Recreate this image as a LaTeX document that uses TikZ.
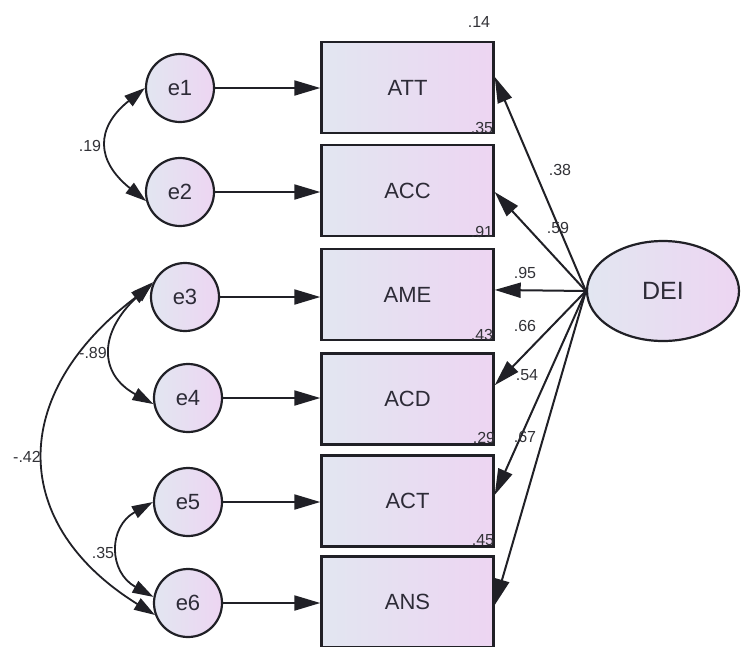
\documentclass[tikz,border=0pt]{standalone}
\usepackage{fontspec}
\setmainfont{Liberation Sans}
\usetikzlibrary{arrows.meta,shapes.geometric,calc}
\definecolor{edgegray}{RGB}{32,32,38}
\definecolor{fillL}{RGB}{226,230,241}
\definecolor{fillR}{RGB}{237,213,242}
\definecolor{numtxt}{RGB}{50,50,55}
\definecolor{labtxt}{RGB}{45,43,55}
\begin{document}
\begin{tikzpicture}[x=1pt,y=-1pt,
  obs/.style={draw=edgegray, line width=2.4pt, left color=fillL, right color=fillR,
    minimum width=172pt, minimum height=91pt, inner sep=0pt,
    font=\fontsize{22}{22}\selectfont, text=labtxt},
  err/.style={circle, draw=edgegray, line width=2.2pt, left color=fillL, right color=fillR,
    minimum size=68pt, inner sep=0pt, font=\fontsize{22}{22}\selectfont, text=labtxt},
  lat/.style={ellipse, draw=edgegray, line width=2.2pt, left color=fillL, right color=fillR,
    minimum width=152pt, minimum height=100pt, inner sep=0pt,
    font=\fontsize{25}{25}\selectfont, text=labtxt},
  regpath/.style={-{Triangle[length=26pt,width=15pt]}, line width=2pt, draw=edgegray},
  covpath/.style={{Triangle[length=21pt,width=13pt]}-{Triangle[length=21pt,width=13pt]},
    line width=1.8pt, draw=edgegray},
  num/.style={font=\fontsize{16}{16}\selectfont, text=numtxt, inner sep=0pt},
]
\clip (0,0) rectangle (741,646);
\fill[white] (0,0) rectangle (741,646);

% observed indicators
\node[obs] (ATT) at (407.5,87.5) {ATT};
\node[obs] (ACC) at (407.5,190.5) {ACC};
\node[obs] (AME) at (407.5,294.5) {AME};
\node[obs] (ACD) at (407.5,399) {ACD};
\node[obs] (ACT) at (407.5,501) {ACT};
\node[obs] (ANS) at (407.5,602) {ANS};

% error terms
\node[err] (e1) at (180,88) {e1};
\node[err] (e2) at (180,192) {e2};
\node[err] (e3) at (185,297) {e3};
\node[err] (e4) at (188,398) {e4};
\node[err] (e5) at (188,502) {e5};
\node[err] (e6) at (188,603) {e6};

% latent factor
\node[lat] (DEI) at (663,291) {DEI};

% error -> indicator
\foreach \e/\o in {e1/ATT,e2/ACC,e3/AME,e4/ACD,e5/ACT,e6/ANS}
  \draw[regpath] (\e) -- (\e -| \o.west);

% factor loadings
\draw[regpath] (DEI.west) -- (ATT.7);
\draw[regpath] (DEI.west) -- (ACC.-1);
\draw[regpath] (DEI.west) -- (AME.3);
\draw[regpath] (DEI.west) -- (ACD.9);
\draw[regpath] (DEI.west) -- (ACT.4);
\draw[regpath] (DEI.west) -- (ANS.-2);

% error covariances
\draw[covpath] (e1.180) .. controls +(-50,40) and +(-50,-40) .. (e2.195);
\draw[covpath] (e3.155) .. controls +(-55,50) and +(-55,-30) .. (e4.190);
\draw[covpath] (e3.160) .. controls +(-145,110) and +(-145,-90) .. (e6.200);
\draw[covpath] (e5.180) .. controls +(-45,25) and +(-45,-25) .. (e6.170);

% loading estimates
\node[num] (l1) at (560,170) {.38};
\node[num] (l2) at (558,228) {.59};
\node[num] (l3) at (525,273) {.95};
\node[num] (l4) at (525,326) {.66};
\node[num] (l5) at (527,375) {.54};
\node[num] (l6) at (525,437) {.67};

% squared multiple correlations
\node[num] (r0) at (479,22) {.14};
\node[num] (r1) at (482,128) {.35};
\node[num] (r2) at (482,232) {.91};
\node[num] (r3) at (482,335) {.43};
\node[num] (r4) at (484,438) {.29};
\node[num] (r5) at (483,540) {.45};

% covariance estimates
\node[num] (c1) at (90,146) {.19};
\node[num] (c2) at (93,353) {-.89};
\node[num] (c3) at (27,457) {-.42};
\node[num] (c4) at (103,553) {.35};
\end{tikzpicture}
\end{document}
